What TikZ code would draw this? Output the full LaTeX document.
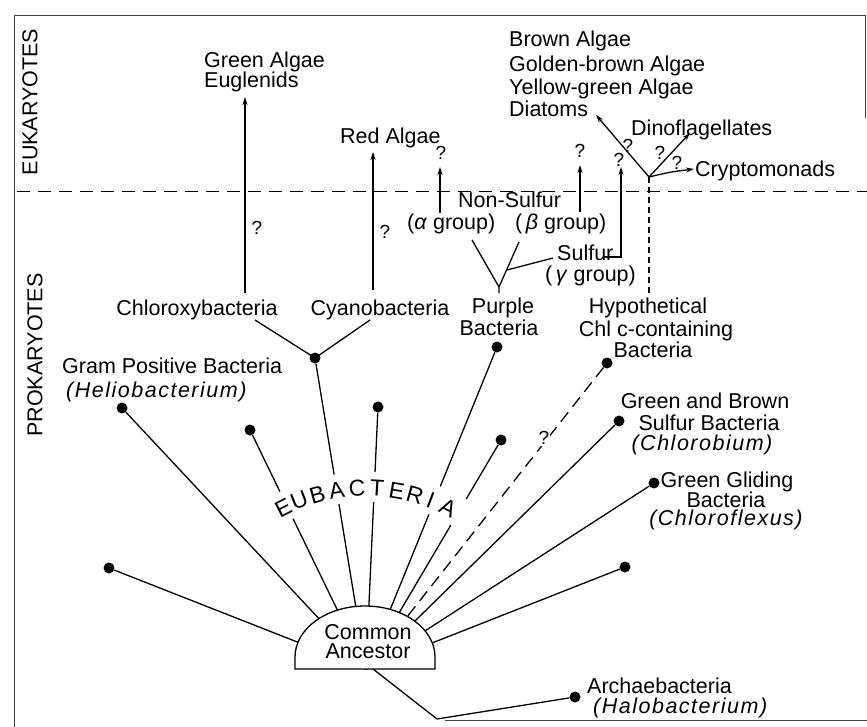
\documentclass[tikz,border=0pt]{standalone}
\usepackage{fontspec}
\setmainfont{Liberation Sans}
\newfontfamily\itl{Liberation Sans}[LetterSpace=7]
\usetikzlibrary{arrows.meta}
\newcommand\lf{\fontsize{21.5pt}{24pt}\selectfont}
\newcommand\ef{\fontsize{23pt}{26pt}\selectfont}
\newcommand\qf{\fontsize{19pt}{22pt}\selectfont}
\begin{document}
\begin{tikzpicture}[x=1pt,y=1pt,
  txt/.style={font=\lf, inner sep=0pt},
  etxt/.style={font=\ef, inner sep=0pt},
  itxt/.style={font=\lf\itl\itshape, inner sep=0pt},
  qm/.style={font=\qf, inner sep=0pt},
  dot/.style={circle, fill=black, inner sep=0pt, minimum size=11pt},
  ln/.style={line width=1.3pt},
  arr/.style={line width=1.3pt, -{Stealth[length=8pt,width=5pt]}},
  frame/.style={line width=0.8pt, black!75}]
\useasboundingbox (0,0) rectangle (867,-727);
% frame
\draw[frame] (14,-727) -- (14,-15) -- (865,-15) -- (865,-118);
\draw[frame] (445,-720) -- (867,-720);
% divider
\draw[line width=1pt, dash pattern=on 13pt off 8pt] (17,-192) -- (867,-192);
\node[txt, rotate=90] (euk) at (30,-102) {EUKARYOTES};
\node[txt, rotate=90] (pro) at (35,-355) {PROKARYOTES};

% coordinates
\coordinate (anc) at (366,-669);
\coordinate (ancb) at (373,-669);
\coordinate (arcc) at (366,-670);

% dots
\node[dot] (d1) at (109,-568) {};
\node[dot] (d2) at (122,-408) {};
\node[dot] (d3) at (250,-430) {};
\node[dot] (d4) at (315,-358) {};
\node[dot] (d5) at (378,-407) {};
\node[dot] (d6) at (497,-347) {};
\node[dot] (d7) at (501,-440) {};
\node[dot] (d8) at (607,-363) {};
\node[dot] (d9) at (619,-421) {};
\node[dot] (d10) at (654,-483) {};
\node[dot] (d11) at (625,-567) {};
\node[dot] (d12) at (575,-697) {};

% radiating lines
\foreach \d in {d1,d2,d3,d4,d5,d6,d7,d9,d10,d11}
  \draw[ln] (\d) -- (anc);
\draw[ln, dash pattern=on 12pt off 7pt] (d8) -- (anc);
\node[qm, fill=white, inner sep=1pt] (qd) at (544,-438) {?};

% white band for EUBACTERIA
\draw[white, line width=30pt] (arcc) ++(55:183) arc[start angle=55, end angle=123, radius=183];
\foreach \l/\a [count=\i] in {E/117,U/111.5,B/105.5,A/99.3,C/92.8,T/86.5,E/80.3,R/74.4,I/69.2,A/63.2}
  \node[etxt, rotate=\a-90] (eb\i) at ([shift={(\a:182)}]arcc) {\l};

% dome
\draw[line width=1.3pt, fill=white] (295,-669) -- (295,-657) arc[start angle=180, end angle=0, x radius=70, y radius=51] -- (435,-669) -- cycle;
\node[txt, anchor=base] (ca1) at (368,-639) {Common};
\node[txt, anchor=base] (ca2) at (368,-658) {Ancestor};

% archaebacteria
\coordinate (ak) at (437,-719);
\draw[ln] (ancb) -- (ak) -- (d12);
\node[txt, anchor=base west] (arch) at (587,-693) {Archaebacteria};
\node[itxt, anchor=base west] (halo) at (593,-713) {(Halobacterium)};

% prokaryote labels
\node[txt, anchor=base west] (gram) at (62,-373) {Gram Positive Bacteria};
\node[itxt, anchor=base west] (helio) at (66,-397) {(Heliobacterium)};
\node[txt, anchor=base] (gb1) at (705,-408) {Green and Brown};
\node[txt, anchor=base] (gb2) at (709,-430) {Sulfur Bacteria};
\node[itxt, anchor=base] (gb3) at (702,-450) {(Chlorobium)};
\node[txt, anchor=base] (gg1) at (727,-487) {Green Gliding};
\node[txt, anchor=base] (gg2) at (726,-507) {Bacteria};
\node[itxt, anchor=base] (gg3) at (726,-525) {(Chloroflexus)};
\node[txt, anchor=base] (hy1) at (648,-313) {Hypothetical};
\node[txt, anchor=base] (hy2) at (656,-336) {Chl c-containing};
\node[txt, anchor=base] (hy3) at (653,-357) {Bacteria};
\node[txt, anchor=base] (pu1) at (503,-313) {Purple};
\node[txt, anchor=base] (pu2) at (499,-335) {Bacteria};
\node[txt, anchor=base] (chx) at (197,-315) {Chloroxybacteria};
\node[txt, anchor=base] (cya) at (380,-315) {Cyanobacteria};

% chloroxy / cyano fork
\coordinate (chxt) at (255,-320);
\coordinate (cyat) at (370,-320);
\draw[ln] (chxt) -- (d4.center);
\draw[ln] (cyat) -- (d4.center);
\coordinate (chxu) at (245,-293);
\coordinate (cyau) at (373,-290);
\node[txt, anchor=base west] (ga1) at (204,-68) {Green Algae};
\node[txt, anchor=base west] (ga2) at (204,-88) {Euglenids};
\node[txt, anchor=base west] (ra) at (340,-144) {Red Algae};
\draw[arr] (chxu) -- (245,-97) coordinate (gat);
\draw[arr] (cyau) -- (373,-152) coordinate (rat);
\node[qm] (q1) at (257,-228) {?};
\node[qm] (q2) at (385,-232) {?};

% purple bacteria fork
\coordinate (pst) at (499,-293);
\coordinate (pj) at (499,-287);
\coordinate (pl) at (472,-240);
\coordinate (pr) at (519,-242);
\coordinate (ps1) at (507,-270);
\coordinate (ps2) at (553,-258);
\draw[ln] (pst) -- (pj) -- (pl);
\draw[ln] (pj) -- (pr);
\draw[ln] (ps1) -- (ps2);
\node[txt, anchor=base west] (ns) at (458,-208) {Non-Sulfur};
\node[txt, anchor=base west] (ag) at (407,-230) {(\textit{α} group)};
\node[txt, anchor=base west] (bg) at (515,-230) {(\,\textit{β} group)};
\node[txt, anchor=base west] (sul) at (557,-261) {Sulfur};
\node[txt, anchor=base west] (gg) at (545,-281) {(\,\textit{γ} group)};
\coordinate (as) at (440,-213);
\coordinate (bs) at (580,-212);
\draw[arr] (as) -- (440,-167) coordinate (at);
\draw[arr] (bs) -- (580,-165) coordinate (bt);
\coordinate (gs) at (604,-257);
\draw[arr] (gs) -- (621,-257) -- (621,-167) coordinate (gt);
\node[qm] (q3) at (441,-153) {?};
\node[qm] (q4) at (580,-151) {?};
\node[qm] (q5) at (619,-160) {?};

% chl c lineage
\coordinate (hyb) at (649,-293);
\coordinate (jn) at (649,-177);
\draw[line width=1.1pt, dash pattern=on 6pt off 4pt] (hyb) -- (jn);
\node[txt, anchor=base west] (ba1) at (509,-47) {Brown Algae};
\node[txt, anchor=base west] (ba2) at (509,-72) {Golden-brown Algae};
\node[txt, anchor=base west] (ba3) at (509,-95) {Yellow-green Algae};
\node[txt, anchor=base west] (ba4) at (509,-117) {Diatoms};
\node[txt, anchor=base west] (dino) at (631,-136) {Dinoflagellates};
\node[txt, anchor=base west] (cry) at (695,-177) {Cryptomonads};
\draw[arr] (jn) -- (596,-115) coordinate (bat);
\draw[arr] (jn) -- (690,-133) coordinate (dit);
\draw[arr] (jn) .. controls (670,-172) .. (694,-169) coordinate (crt);
\node[qm] (q6) at (628,-146) {?};
\node[qm] (q7) at (660,-153) {?};
\node[qm] (q8) at (677,-163) {?};
\end{tikzpicture}
\end{document}
